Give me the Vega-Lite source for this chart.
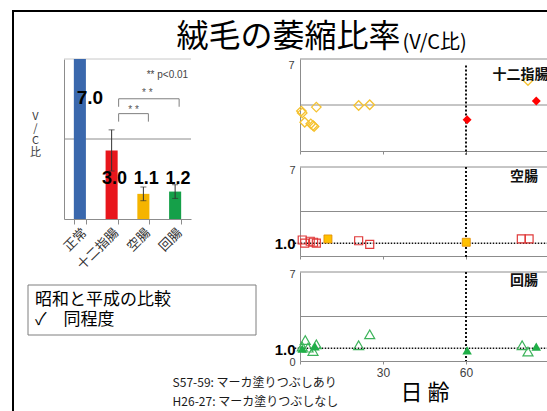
{
  "$schema": "https://vega.github.io/schema/vega-lite/v6.json",
  "background": "white",
  "padding": {"left": 11, "top": 9, "right": 0, "bottom": 0},
  "config": {
    "font": "Noto Sans CJK JP",
    "view": {"stroke": null},
    "axis": {"grid": false, "domainColor": "#8c8c8c", "tickColor": "#8c8c8c", "labelColor": "#404040"},
    "title": {"font": "Noto Sans CJK JP", "fontWeight": "normal", "color": "black"}
  },
  "datasets": {
    "bars": [
      {"cat": "正常", "vc": 7.0},
      {"cat": "十二指腸", "vc": 3.0, "lo": 2.1, "hi": 3.9},
      {"cat": "空腸", "vc": 1.1, "lo": 0.8, "hi": 1.4},
      {"cat": "回腸", "vc": 1.2, "lo": 0.9, "hi": 1.5}
    ],
    "duo": [
      {"day": 0.5, "vc": 3.04, "era": "H26-27"},
      {"day": 0.8, "vc": 2.9, "era": "H26-27"},
      {"day": 5.9, "vc": 3.34, "era": "H26-27"},
      {"day": 1.7, "vc": 2.19, "era": "H26-27"},
      {"day": 3.9, "vc": 2.07, "era": "H26-27"},
      {"day": 4.7, "vc": 1.94, "era": "H26-27"},
      {"day": 5.1, "vc": 1.86, "era": "H26-27"},
      {"day": 21.2, "vc": 3.46, "era": "H26-27"},
      {"day": 25.2, "vc": 3.52, "era": "H26-27"},
      {"day": 82.4, "vc": 5.36, "era": "H26-27"},
      {"day": 60.4, "vc": 2.38, "era": "S57-59"},
      {"day": 85.4, "vc": 3.8, "era": "S57-59"}
    ],
    "jej": [
      {"day": 0.8, "vc": 1.26, "era": "H26-27"},
      {"day": 1.7, "vc": 1.02, "era": "H26-27"},
      {"day": 3.7, "vc": 1.16, "era": "H26-27"},
      {"day": 4.9, "vc": 1.08, "era": "H26-27"},
      {"day": 5.9, "vc": 1.02, "era": "H26-27"},
      {"day": 21.2, "vc": 1.2, "era": "H26-27"},
      {"day": 25.2, "vc": 0.92, "era": "H26-27"},
      {"day": 80.0, "vc": 1.34, "era": "H26-27"},
      {"day": 82.8, "vc": 1.34, "era": "H26-27"},
      {"day": 10.1, "vc": 1.34, "era": "S57-59"},
      {"day": 60.1, "vc": 1.08, "era": "S57-59"}
    ],
    "ile": [
      {"day": 0.8, "vc": 1.13, "era": "H26-27"},
      {"day": 1.9, "vc": 1.65, "era": "H26-27"},
      {"day": 2.9, "vc": 1.05, "era": "H26-27"},
      {"day": 4.7, "vc": 0.79, "era": "H26-27"},
      {"day": 5.9, "vc": 1.31, "era": "H26-27"},
      {"day": 21.2, "vc": 1.24, "era": "H26-27"},
      {"day": 25.2, "vc": 2.1, "era": "H26-27"},
      {"day": 80.3, "vc": 1.24, "era": "H26-27"},
      {"day": 82.4, "vc": 0.74, "era": "H26-27"},
      {"day": 0.8, "vc": 0.98, "era": "S57-59"},
      {"day": 5.4, "vc": 1.15, "era": "S57-59"},
      {"day": 60.4, "vc": 0.84, "era": "S57-59"},
      {"day": 85.4, "vc": 1.13, "era": "S57-59"}
    ]
  },
  "title": {
    "text": ["S57-59: マーカ塗りつぶしあり", "H26-27: マーカ塗りつぶしなし"],
    "orient": "bottom", "anchor": "start", "dx": 161, "offset": -34,
    "fontSize": 12, "lineHeight": 19, "color": "#1a1a1a"
  },
  "bounds": "flush",
  "spacing": 38,
  "vconcat": [
    {
      "width": 484, "height": 10,
      "data": {"values": [{}]},
      "layer": [
        {"mark": {"type": "rule", "color": "black", "strokeWidth": 2},
          "encoding": {
            "x": {"datum": -0.10537, "type": "quantitative", "scale": {"domain": [0, 1], "nice": false, "zero": false}, "axis": null},
            "x2": {"datum": 0.999},
            "y": {"datum": 1, "type": "quantitative", "scale": {"domain": [0, 1], "nice": false, "zero": false}, "axis": null}}},
        {"mark": {"type": "rule", "color": "black", "strokeWidth": 2, "strokeCap": "square"},
          "encoding": {
            "x": {"datum": -0.10537, "type": "quantitative"},
            "y": {"datum": 1, "type": "quantitative"},
            "y2": {"datum": -39}}}
      ]
    },
    {
      "title": {"text": "絨毛の萎縮比率", "anchor": "start", "dx": 149, "offset": -21.5, "fontSize": 32},
      "vconcat": [
        {
          "title": {"text": "(V/C比)", "anchor": "start", "dx": 375, "offset": 6, "fontSize": 20},
          "spacing": 17,
          "hconcat": [
            {
              "concat": [
                {
                  "width": 127, "height": 160,
                  "data": {"name": "bars"},
                  "layer": [
                    {"data": {"values": [{}]}, "mark": {"type": "rule", "color": "#8c8c8c"}, "encoding": {"y": {"datum": 3.5, "type": "quantitative"}}},
                    {"data": {"values": [{}]}, "mark": {"type": "rule", "color": "#c8c8c8"}, "encoding": {"y": {"datum": 7, "type": "quantitative"}}},
                    {
                      "mark": {"type": "bar"},
                      "encoding": {
                        "x": {"field": "cat", "type": "nominal", "sort": null,
                          "scale": {"domain": ["正常", "十二指腸", "空腸", "回腸"], "paddingInner": 0.62, "paddingOuter": 0.31},
                          "axis": {"title": null, "labelAngle": -45, "tickBand": "extent", "tickSize": 5, "labelFontSize": 13, "labelColor": "#333333", "labelPadding": 2, "labelFont": "Noto Sans CJK JP"}},
                        "y": {"field": "vc", "type": "quantitative", "title": ["V", "/", "C", "比"],
                          "scale": {"domain": [0, 7], "nice": false},
                          "axis": {"values": [0], "ticks": false, "labels": false, "titleAngle": 0, "titleAlign": "center", "titleBaseline": "middle", "titleFontSize": 11, "titleFontWeight": "normal", "titleLineHeight": 12, "titleColor": "#404040", "titleX": -29, "titleY": 57}},
                        "color": {"field": "cat", "type": "nominal",
                          "scale": {"domain": ["正常", "十二指腸", "空腸", "回腸"], "range": ["#3a68ad", "#e8161c", "#f5b400", "#15a049"]},
                          "legend": null}
                      }
                    },
                    {
                      "transform": [{"filter": "isValid(datum.hi)"}],
                      "mark": {"type": "errorbar", "ticks": true, "size": 6, "color": "#333333", "thickness": 1},
                      "encoding": {
                        "x": {"field": "cat", "type": "nominal"},
                        "y": {"field": "lo", "type": "quantitative", "title": ["V", "/", "C", "比"]},
                        "y2": {"field": "hi"}
                      }
                    },
                    {
                      "transform": [{"filter": "datum.cat == '正常'"}],
                      "mark": {"type": "text", "font": "Liberation Sans", "fontWeight": "bold", "fontSize": 19, "dx": 10, "color": "black"},
                      "encoding": {
                        "x": {"field": "cat", "type": "nominal"},
                        "y": {"datum": 5.3, "type": "quantitative"},
                        "text": {"field": "vc", "type": "quantitative", "format": ".1f"}
                      }
                    },
                    {
                      "transform": [{"filter": "datum.cat != '正常'"}],
                      "mark": {"type": "text", "font": "Liberation Sans", "fontWeight": "bold", "fontSize": 18, "dx": 3, "color": "black"},
                      "encoding": {
                        "x": {"field": "cat", "type": "nominal"},
                        "y": {"datum": 1.75, "type": "quantitative"},
                        "text": {"field": "vc", "type": "quantitative", "format": ".1f"}
                      }
                    },
                    {"data": {"values": [{}]}, "mark": {"type": "rule", "color": "#7f7f7f", "xOffset": 7, "x2Offset": 4},
                      "encoding": {"x": {"datum": "十二指腸", "type": "nominal"}, "x2": {"datum": "回腸"}, "y": {"datum": 5.26, "type": "quantitative"}}},
                    {"data": {"values": [{}]}, "mark": {"type": "rule", "color": "#7f7f7f", "xOffset": 7},
                      "encoding": {"x": {"datum": "十二指腸", "type": "nominal"}, "y": {"datum": 5.26, "type": "quantitative"}, "y2": {"datum": 4.91}}},
                    {"data": {"values": [{}]}, "mark": {"type": "rule", "color": "#7f7f7f", "xOffset": 4},
                      "encoding": {"x": {"datum": "回腸", "type": "nominal"}, "y": {"datum": 5.26, "type": "quantitative"}, "y2": {"datum": 4.91}}},
                    {"data": {"values": [{}]}, "mark": {"type": "rule", "color": "#7f7f7f", "xOffset": 7, "x2Offset": 5},
                      "encoding": {"x": {"datum": "十二指腸", "type": "nominal"}, "x2": {"datum": "空腸"}, "y": {"datum": 4.61, "type": "quantitative"}}},
                    {"data": {"values": [{}]}, "mark": {"type": "rule", "color": "#7f7f7f", "xOffset": 7},
                      "encoding": {"x": {"datum": "十二指腸", "type": "nominal"}, "y": {"datum": 4.61, "type": "quantitative"}, "y2": {"datum": 4.26}}},
                    {"data": {"values": [{}]}, "mark": {"type": "rule", "color": "#7f7f7f", "xOffset": 5},
                      "encoding": {"x": {"datum": "空腸", "type": "nominal"}, "y": {"datum": 4.61, "type": "quantitative"}, "y2": {"datum": 4.26}}},
                    {"data": {"values": [{}]}, "mark": {"type": "text", "text": "* *", "fontSize": 10, "font": "Liberation Sans", "color": "#555555", "dx": 4},
                      "encoding": {"x": {"datum": "空腸", "type": "nominal"}, "y": {"datum": 5.51, "type": "quantitative"}}},
                    {"data": {"values": [{}]}, "mark": {"type": "text", "text": "* *", "fontSize": 10, "font": "Liberation Sans", "color": "#555555", "dx": 22},
                      "encoding": {"x": {"datum": "十二指腸", "type": "nominal"}, "y": {"datum": 4.77, "type": "quantitative"}}},
                    {"data": {"values": [{}]}, "mark": {"type": "text", "text": "** p<0.01", "fontSize": 10, "font": "Liberation Sans", "color": "#444444", "align": "right", "dx": 13},
                      "encoding": {"x": {"datum": "回腸", "type": "nominal"}, "y": {"datum": 6.3, "type": "quantitative"}}}
                  ]
                },
                {
                  "width": 192, "height": 50,
                  "data": {"values": [{}]},
                  "layer": [
                    {"mark": {"type": "rect", "fill": "white", "fillOpacity": 0, "stroke": "#7f7f7f", "strokeWidth": 1},
                      "encoding": {
                        "x": {"datum": -0.1875, "type": "quantitative", "scale": {"domain": [0, 1], "nice": false, "zero": false}, "axis": null},
                        "x2": {"datum": 1},
                        "y": {"datum": 0, "type": "quantitative", "scale": {"domain": [0, 1], "nice": false, "zero": false}, "axis": null},
                        "y2": {"datum": 1}}},
                    {"mark": {"type": "text", "text": "昭和と平成の比較", "align": "left", "baseline": "middle", "fontSize": 17, "color": "black"},
                      "encoding": {"x": {"datum": -0.151, "type": "quantitative"}, "y": {"datum": 0.7, "type": "quantitative"}}},
                    {"mark": {"type": "text", "text": "✓　同程度", "align": "left", "baseline": "middle", "fontSize": 17, "color": "black"},
                      "encoding": {"x": {"datum": -0.151, "type": "quantitative"}, "y": {"datum": 0.3, "type": "quantitative"}}}
                  ]
                }
              ],
              "columns": 1, "spacing": 12
            },
            {
              "spacing": 8,
              "vconcat": [
                {
                  "width": 249, "height": 92,
                  "data": {"name": "duo"},
                  "layer": [
                    {"data": {"values": [{}]}, "mark": {"type": "rule", "color": "#8c8c8c"}, "encoding": {"y": {"datum": 3.5, "type": "quantitative"}}},
                    {"data": {"values": [{}]}, "mark": {"type": "rule", "color": "#8c8c8c"}, "encoding": {"y": {"datum": 7, "type": "quantitative"}}},
                    {"data": {"values": [{}]}, "mark": {"type": "rule", "color": "#111111", "strokeWidth": 2, "strokeDash": [2, 2]},
                      "encoding": {"x": {"datum": 60, "type": "quantitative"}, "y": {"datum": 6.5, "type": "quantitative"}, "y2": {"datum": -0.27}}},
                    {
                      "transform": [{"filter": "datum.era == 'H26-27'"}],
                      "mark": {"type": "point", "shape": "diamond", "filled": false, "color": "#f5c230", "size": 90, "strokeWidth": 1.3, "opacity": 1},
                      "encoding": {
                        "x": {"field": "day", "type": "quantitative", "scale": {"domain": [0, 90], "nice": false, "zero": false},
                          "axis": {"values": [0, 30, 60], "labels": false, "tickSize": 3, "title": null}},
                        "y": {"field": "vc", "type": "quantitative", "scale": {"domain": [0, 7], "nice": false},
                          "axis": {"values": [7], "ticks": false, "title": null, "labelFontSize": 11, "labelFont": "Liberation Sans", "labelPadding": 6, "labelOffset": 6, "labelOverlap": false}}
                      }
                    },
                    {
                      "transform": [{"filter": "datum.era == 'S57-59'"}],
                      "mark": {"type": "point", "shape": "diamond", "filled": true, "color": "#ff0000", "size": 80, "opacity": 1},
                      "encoding": {"x": {"field": "day", "type": "quantitative"}, "y": {"field": "vc", "type": "quantitative"}}
                    },
                    {"data": {"values": [{}]}, "mark": {"type": "text", "text": "十二指腸", "fontSize": 14, "fontWeight": "bold", "color": "#111111"},
                      "encoding": {"x": {"datum": 79.7, "type": "quantitative"}, "y": {"datum": 5.8, "type": "quantitative"}}}
                  ]
                },
                {
                  "width": 249, "height": 89,
                  "data": {"name": "jej"},
                  "layer": [
                    {"data": {"values": [{}]}, "mark": {"type": "rule", "color": "#8c8c8c"}, "encoding": {"y": {"datum": 3.5, "type": "quantitative"}}},
                    {"data": {"values": [{}]}, "mark": {"type": "rule", "color": "#8c8c8c"}, "encoding": {"y": {"datum": 7, "type": "quantitative"}}},
                    {"data": {"values": [{}]}, "mark": {"type": "rule", "color": "#111111", "strokeWidth": 2, "strokeDash": [2, 2]},
                      "encoding": {"x": {"datum": 60, "type": "quantitative"}, "y": {"datum": 7, "type": "quantitative"}, "y2": {"datum": -0.2}}},
                    {"data": {"values": [{}]}, "mark": {"type": "rule", "color": "#111111", "strokeWidth": 1.5, "strokeDash": [1.5, 1.5]},
                      "encoding": {"x": {"datum": -1.9, "type": "quantitative"}, "x2": {"datum": 90}, "y": {"datum": 1, "type": "quantitative"}}},
                    {
                      "transform": [{"filter": "datum.era == 'H26-27'"}],
                      "mark": {"type": "point", "shape": "square", "filled": false, "color": "#e03a3a", "size": 64, "strokeWidth": 1.2, "opacity": 1},
                      "encoding": {
                        "x": {"field": "day", "type": "quantitative", "scale": {"domain": [0, 90], "nice": false, "zero": false},
                          "axis": {"values": [0, 30, 60], "labels": false, "tickSize": 3, "title": null}},
                        "y": {"field": "vc", "type": "quantitative", "scale": {"domain": [0, 7], "nice": false},
                          "axis": {"values": [1, 7], "ticks": false, "title": null, "labelFont": "Liberation Sans", "labelPadding": 5, "labelOverlap": false,
                            "labelExpr": "datum.value == 1 ? '1.0' : datum.label",
                            "labelFontSize": {"condition": {"test": "datum.value == 1", "value": 15}, "value": 11},
                            "labelFontWeight": {"condition": {"test": "datum.value == 1", "value": "bold"}, "value": "normal"},
                            "labelColor": {"condition": {"test": "datum.value == 1", "value": "#000000"}, "value": "#404040"},
                            "labelOffset": {"condition": {"test": "datum.value == 1", "value": 0}, "value": 3}}}
                      }
                    },
                    {
                      "transform": [{"filter": "datum.era == 'S57-59'"}],
                      "mark": {"type": "point", "shape": "square", "filled": true, "fill": "#ffc000", "stroke": "#e08a00", "strokeWidth": 0.8, "size": 64, "opacity": 1},
                      "encoding": {"x": {"field": "day", "type": "quantitative"}, "y": {"field": "vc", "type": "quantitative"}}
                    },
                    {"data": {"values": [{}]}, "mark": {"type": "text", "text": "空腸", "fontSize": 14, "fontWeight": "bold", "color": "#111111"},
                      "encoding": {"x": {"datum": 81, "type": "quantitative"}, "y": {"datum": 6.2, "type": "quantitative"}}}
                  ]
                },
                {
                  "width": 249, "height": 89,
                  "data": {"name": "ile"},
                  "layer": [
                    {"data": {"values": [{}]}, "mark": {"type": "rule", "color": "#8c8c8c"}, "encoding": {"y": {"datum": 3.5, "type": "quantitative"}}},
                    {"data": {"values": [{}]}, "mark": {"type": "rule", "color": "#8c8c8c"}, "encoding": {"y": {"datum": 7, "type": "quantitative"}}},
                    {"data": {"values": [{}]}, "mark": {"type": "rule", "color": "#111111", "strokeWidth": 2, "strokeDash": [2, 2]},
                      "encoding": {"x": {"datum": 60, "type": "quantitative"}, "y": {"datum": 7, "type": "quantitative"}, "y2": {"datum": 0}}},
                    {"data": {"values": [{}]}, "mark": {"type": "rule", "color": "#111111", "strokeWidth": 1.5, "strokeDash": [1.5, 1.5]},
                      "encoding": {"x": {"datum": -1.9, "type": "quantitative"}, "x2": {"datum": 90}, "y": {"datum": 1, "type": "quantitative"}}},
                    {
                      "transform": [{"filter": "datum.era == 'H26-27'"}],
                      "mark": {"type": "point", "shape": "triangle-up", "filled": false, "color": "#3cb35a", "size": 100, "strokeWidth": 1.2, "opacity": 1},
                      "encoding": {
                        "x": {"field": "day", "type": "quantitative", "scale": {"domain": [0, 90], "nice": false, "zero": false},
                          "axis": {"values": [0, 30, 60], "tickSize": 3, "labelExpr": "datum.value == 0 ? '' : datum.label", "labelFont": "Liberation Sans", "labelFontSize": 12, "labelFlush": false, "labelPadding": 3,
                            "title": "日  齢", "titleFontSize": 22, "titleFontWeight": "normal", "titleColor": "#000000", "titlePadding": 4}},
                        "y": {"field": "vc", "type": "quantitative", "scale": {"domain": [0, 7], "nice": false},
                          "axis": {"values": [0, 1, 7], "ticks": false, "title": null, "labelFont": "Liberation Sans", "labelPadding": 5, "labelOverlap": false,
                            "labelExpr": "datum.value == 1 ? '1.0' : datum.label",
                            "labelFontSize": {"condition": {"test": "datum.value == 1", "value": 15}, "value": 11},
                            "labelFontWeight": {"condition": {"test": "datum.value == 1", "value": "bold"}, "value": "normal"},
                            "labelColor": {"condition": {"test": "datum.value == 1", "value": "#000000"}, "value": "#404040"},
                            "labelOffset": {"condition": {"test": "datum.value == 7", "value": 2}, "value": 1}}}
                      }
                    },
                    {
                      "transform": [{"filter": "datum.era == 'S57-59'"}],
                      "mark": {"type": "point", "shape": "triangle-up", "filled": true, "color": "#1fae47", "size": 90, "opacity": 1},
                      "encoding": {"x": {"field": "day", "type": "quantitative"}, "y": {"field": "vc", "type": "quantitative"}}
                    },
                    {"data": {"values": [{}]}, "mark": {"type": "text", "text": "回腸", "fontSize": 14, "fontWeight": "bold", "color": "#111111"},
                      "encoding": {"x": {"datum": 81, "type": "quantitative"}, "y": {"datum": 6.3, "type": "quantitative"}}}
                  ]
                }
              ]
            }
          ]
        }
      ]
    }
  ]
}
